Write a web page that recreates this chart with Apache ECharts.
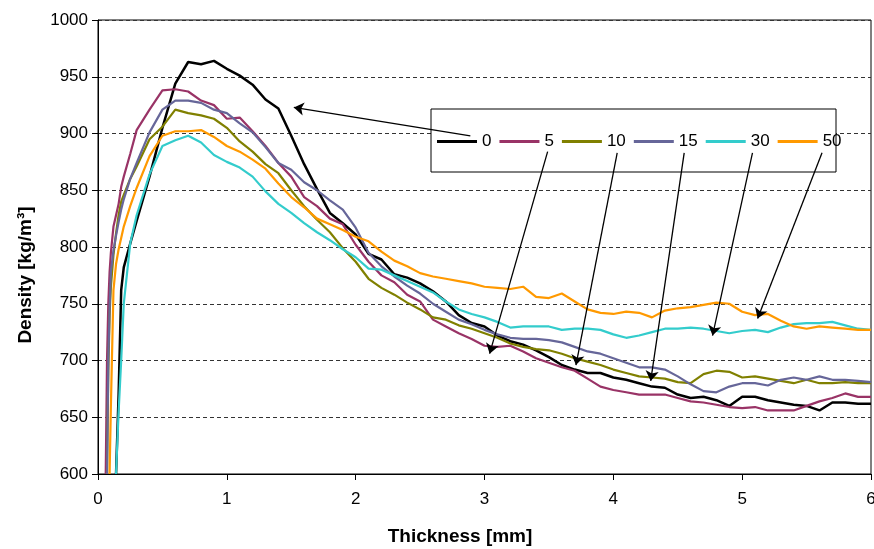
<!DOCTYPE html>
<html>
<head>
<meta charset="utf-8">
<title>Density profile</title>
<script src="https://cdn.jsdelivr.net/npm/echarts@6/dist/echarts.min.js"></script>
<style>
  html, body { margin: 0; padding: 0; background: #fff; }
  #main { width: 874px; height: 549px; }
</style>
</head>
<body>
<div id="main"></div>
<script type="text/javascript">
  // thickness positions [mm], denser at the start where the curves rise steeply
  var thickness = [0.06, 0.07, 0.08, 0.09, 0.10, 0.12, 0.14, 0.16, 0.18, 0.20, 0.25,
    0.3, 0.4, 0.5, 0.6, 0.7, 0.8, 0.9,
    1.0, 1.1, 1.2, 1.3, 1.4, 1.5, 1.6, 1.7, 1.8, 1.9,
    2.0, 2.1, 2.2, 2.3, 2.4, 2.5, 2.6, 2.7, 2.8, 2.9,
    3.0, 3.1, 3.2, 3.3, 3.4, 3.5, 3.6, 3.7, 3.8, 3.9,
    4.0, 4.1, 4.2, 4.3, 4.4, 4.5, 4.6, 4.7, 4.8, 4.9,
    5.0, 5.1, 5.2, 5.3, 5.4, 5.5, 5.6, 5.7, 5.8, 5.9,
    6.0];

  var names = ['0', '5', '10', '15', '30', '50'];

  // density [kg/m3]
  var d0 = [null, null, null, null, null, null, 600, 670, 762, 782, 803,
    823, 862, 905, 944, 963, 961, 964,
    957, 951, 943, 930, 922, 898, 873, 851, 830, 821,
    811, 794, 789, 776, 773, 768, 761, 752, 740, 733,
    730, 722, 717, 714, 709, 703, 696, 692, 689, 689,
    685, 683, 680, 677, 676, 670, 667, 668, 665, 660,
    668, 668, 665, 663, 661, 660, 656, 663, 663, 662,
    662];
  var d5 = [600, 700, 750, 778, 795, 818, 828, 838, 853, 862, 882,
    903, 921, 938, 939, 937, 929, 925,
    913, 914, 902, 889, 874, 862, 844, 836, 825, 820,
    802, 787, 775, 769, 758, 752, 736, 730, 724, 719,
    713, 712, 713, 708, 702, 698, 694, 691, 684, 677,
    674, 672, 670, 670, 670, 667, 664, 663, 661, 659,
    658, 659, 656, 656, 656, 660, 664, 667, 671, 668,
    668];
  var d10 = [null, 600, 690, 740, 765, 793, 812, 828, 840, 846, 860,
    871, 895, 906, 921, 918, 916, 913,
    905, 893, 884, 873, 865, 850, 836, 824, 813, 799,
    787, 772, 764, 758, 751, 745, 738, 736, 731, 728,
    724, 720, 715, 712, 710, 709, 706, 702, 699, 696,
    692, 689, 686, 685, 684, 681, 680, 688, 691, 690,
    685, 686, 684, 682, 680, 683, 680, 680, 681, 680,
    680];
  var d15 = [null, 600, 700, 745, 778, 797, 810, 822, 833, 842, 860,
    874, 901, 921, 929, 929, 927, 921,
    918, 909, 901, 888, 874, 868, 857, 850, 841, 833,
    817, 795, 783, 774, 766, 759, 750, 743, 736, 732,
    727, 723, 720, 719, 719, 718, 716, 712, 708, 706,
    702, 698, 694, 694, 692, 686, 679, 673, 672, 677,
    680, 680, 678, 683, 685, 683, 686, 683, 683, 682,
    681];
  var d30 = [null, null, null, null, null, null, 600, 655, 700, 750, 803,
    828, 864, 889, 894, 898, 892, 881,
    875, 870, 862, 849, 838, 830, 821, 813, 806, 798,
    791, 781, 780, 775, 770, 765, 760, 752, 745, 741,
    738, 734, 729, 730, 730, 730, 727, 728, 728, 727,
    723, 720, 722, 725, 728, 728, 729, 728, 726, 724,
    726, 727, 725, 729, 732, 733, 733, 734, 731, 728,
    727];
  var d50 = [null, null, null, 600, 660, 762, 785, 798, 808, 818, 836,
    852, 880, 898, 902, 902, 903, 897,
    889, 884, 877, 869, 856, 844, 835, 825, 820, 815,
    809, 805, 796, 788, 783, 777, 774, 772, 770, 768,
    765, 764, 763, 765, 756, 755, 759, 752, 745, 742,
    741, 743, 742, 738, 744, 746, 747, 749, 751, 750,
    743, 740, 741, 735, 730, 728, 730, 729, 728, 727,
    727];

  // arrows from the legend to each curve, in axis units
  var arrowFrom = [[2.89, 898], [3.49, 884], [4.03, 883], [4.55, 883], [5.08, 883], [5.62, 883]];
  var arrowTo = [[1.52, 923], [3.04, 706], [3.71, 696], [4.29, 682], [4.77, 722], [5.12, 737]];

  var values = [d0, d5, d10, d15, d30, d50];
  var colors = ['#000000', '#993366', '#808000', '#666699', '#33CCCC', '#FF9900'];
  var font = '"Liberation Sans", Arial, sans-serif';

  var seriesList = [];
  for (var i = 0; i < names.length; i++) {
    var pts = [];
    for (var j = 0; j < thickness.length; j++) {
      pts.push([thickness[j], values[i][j]]);
    }
    seriesList.push({
      name: names[i],
      type: 'line',
      data: pts,
      showSymbol: false,
      symbol: 'none',
      clip: true,
      lineStyle: { color: colors[i], width: i == 0 ? 2.5 : 2.2 },
      itemStyle: { color: colors[i] },
      markLine: {
        silent: true,
        animation: false,
        symbol: ['none', 'arrow'],
        symbolSize: 10,
        label: { show: false },
        itemStyle: { color: '#000' },
        lineStyle: { color: '#000', type: 'solid', width: 1.3 },
        emphasis: { disabled: true },
        data: [[{ coord: arrowFrom[i] }, { coord: arrowTo[i] }]]
      }
    });
  }

  var myChart = echarts.init(document.getElementById('main'));
  var option = {
    backgroundColor: '#fff',
    animation: false,
    textStyle: { fontFamily: font },
    grid: {
      left: 98, right: 3, top: 20, bottom: 75,
      outerBoundsMode: 'none',
      containLabel: false,
      show: true, borderColor: '#000', borderWidth: 1
    },
    legend: {
      data: names,
      left: 437,
      top: 133,
      padding: 0,
      icon: 'rect',
      itemWidth: 40,
      itemHeight: 3,
      itemGap: 8,
      selectedMode: false,
      textStyle: { fontSize: 17, color: '#000', fontFamily: font }
    },
    xAxis: {
      type: 'value',
      min: 0,
      max: 6,
      interval: 1,
      axisLine: { show: true, lineStyle: { color: '#000', width: 1 } },
      axisTick: { show: true, inside: false, length: 6, lineStyle: { color: '#000' } },
      axisLabel: { fontSize: 17, color: '#000', margin: 17, fontFamily: font },
      splitLine: { show: false }
    },
    yAxis: {
      type: 'value',
      min: 600,
      max: 1000,
      interval: 50,
      axisLine: { show: true, lineStyle: { color: '#000', width: 1 } },
      axisTick: { show: true, inside: false, length: 6, lineStyle: { color: '#000' } },
      axisLabel: {
        fontSize: 17, color: '#000', margin: 10, fontFamily: font,
        formatter: function (v) { return String(v); }
      },
      splitLine: { show: true, lineStyle: { color: '#333', width: 1, type: [4, 3] } }
    },
    graphic: [
      {
        // legend frame
        type: 'rect',
        z: 1,
        shape: { x: 431, y: 109, width: 405, height: 63 },
        style: { fill: '#fff', stroke: '#000', lineWidth: 1 }
      },
      {
        type: 'text',
        x: 460,
        y: 537,
        style: {
          text: 'Thickness [mm]',
          font: 'bold 19px ' + font,
          fill: '#000',
          align: 'center',
          verticalAlign: 'middle'
        }
      },
      {
        type: 'text',
        x: 26,
        y: 275,
        rotation: Math.PI / 2,
        style: {
          text: 'Density [kg/m³]',
          font: 'bold 19px ' + font,
          fill: '#000',
          align: 'center',
          verticalAlign: 'middle'
        }
      }
    ],
    series: seriesList
  };
  myChart.setOption(option);
</script>
</body>
</html>
